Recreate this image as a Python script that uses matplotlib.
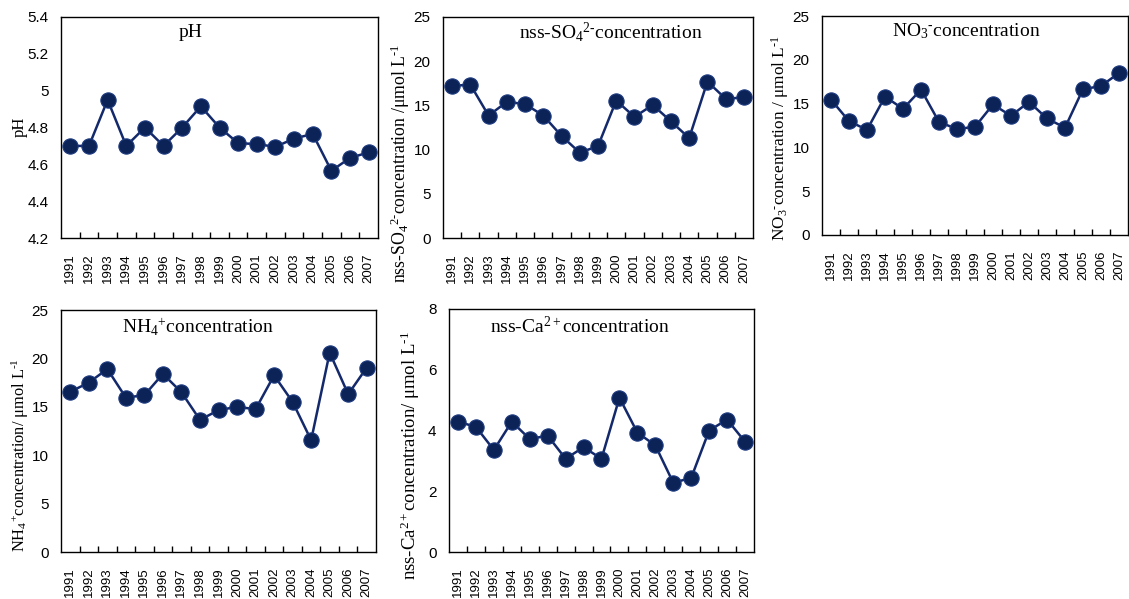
import matplotlib
matplotlib.use("Agg")
import matplotlib.pyplot as plt
from matplotlib.ticker import FixedLocator, NullFormatter

plt.rcParams["mathtext.fontset"] = "custom"
plt.rcParams["mathtext.rm"] = "Liberation Serif"
plt.rcParams["mathtext.it"] = "Liberation Serif:italic"

years = [str(y) for y in range(1991, 2008)]

ph = [4.70, 4.70, 4.95, 4.70, 4.80, 4.70, 4.80, 4.915, 4.80, 4.715,
      4.71, 4.695, 4.74, 4.765, 4.565, 4.635, 4.665]
so4 = [17.2, 17.35, 13.85, 15.4, 15.15, 13.85, 11.55, 9.65, 10.4, 15.55,
       13.7, 15.05, 13.2, 11.3, 17.7, 15.75, 15.9]
no3 = [15.45, 13.0, 12.0, 15.8, 14.4, 16.6, 12.9, 12.1, 12.35, 14.9,
       13.6, 15.2, 13.3, 12.25, 16.65, 17.0, 18.5]
nh4 = [16.55, 17.5, 18.9, 15.95, 16.2, 18.4, 16.5, 13.65, 14.65, 15.0,
       14.75, 18.25, 15.5, 11.55, 20.6, 16.3, 19.05]
ca = [4.29, 4.12, 3.36, 4.29, 3.72, 3.83, 3.07, 3.45, 3.07, 5.08,
      3.93, 3.51, 2.28, 2.44, 4.0, 4.36, 3.63]

W, H = 1129, 599
LINE = "#13296b"
MARK = "#0c2358"
HY = "\u2010"  # short hyphen instead of the mathtext minus

# (values, pixel box l, r, top, bottom, ylim, yticks, ticklabels, title,
#  title x-frac, ylabel, ylabel centre in px, ylabel size)
panels = [
    (ph, (61, 378, 17, 238), (4.2, 5.4), [4.2, 4.4, 4.6, 4.8, 5.0, 5.2, 5.4],
     ["4.2", "4.4", "4.6", "4.8", "5", "5.2", "5.4"],
     "pH", 0.41, "pH", (20, 127), 12),
    (so4, (443, 753, 17, 238), (0, 25), [0, 5, 10, 15, 20, 25], None,
     r"nss-SO$_{\mathrm{4}}$$^{\mathrm{2" + HY + "}}$concentration", 0.54,
     r"nss-SO$_{\mathrm{4}}$$^{\mathrm{2" + HY + r"}}$concentration /μmol L$^{\mathrm{" + HY + "1}}$",
     (400, 163), 12.8),
    (no3, (822, 1128, 16, 235), (0, 25), [0, 5, 10, 15, 20, 25], None,
     r"NO$_{\mathrm{3}}$$^{\mathrm{" + HY + "}}$concentration", 0.47,
     r"NO$_{\mathrm{3}}$$^{\mathrm{" + HY + r"}}$concentration / μmol L$^{\mathrm{" + HY + "1}}$",
     (780, 138), 12.4),
    (nh4, (61, 376, 310, 552), (0, 25), [0, 5, 10, 15, 20, 25], None,
     r"NH$_{\mathrm{4}}$$^{\mathrm{+}}$concentration", 0.435,
     r"NH$_{\mathrm{4}}$$^{\mathrm{+}}$concentration/ μmol L$^{\mathrm{" + HY + "1}}$",
     (20, 455), 11.8),
    (ca, (449, 754, 309, 552), (0, 8), [0, 2, 4, 6, 8], None,
     r"nss-Ca$^{\mathrm{2+}}$concentration", 0.43,
     r"nss-Ca$^{\mathrm{2+}}$concentration/ μmol L$^{\mathrm{" + HY + "1}}$",
     (410, 455), 13.5),
]

fig = plt.figure(figsize=(W / 100, H / 100), dpi=100)

for (vals, (l, r, t, b), ylim, yticks, ylabels, title, tx, ylab,
     (lx, ly), lsize) in panels:
    ax = fig.add_axes([l / W, (H - b) / H, (r - l) / W, (b - t) / H])
    x = list(range(len(years)))
    ax.plot(x, vals, color=LINE, lw=1.8, marker="o", markersize=11,
            markerfacecolor=MARK, markeredgecolor="#1d3a80", markeredgewidth=0.8,
            zorder=3)
    ax.set_xlim(-0.5, len(years) - 0.5)
    ax.set_ylim(*ylim)
    ax.set_yticks(yticks)
    if ylabels:
        ax.set_yticklabels(ylabels)

    # category labels at the centres, tick marks between categories
    ax.xaxis.set_major_locator(FixedLocator([i + 0.5 for i in range(len(years) - 1)]))
    ax.xaxis.set_major_formatter(NullFormatter())
    ax.xaxis.set_minor_locator(FixedLocator(x))
    ax.set_xticklabels(years, minor=True, rotation=90, fontsize=9.5,
                       family="Liberation Sans")
    ax.tick_params(axis="x", which="major", direction="in", length=4, width=1)
    ax.tick_params(axis="x", which="minor", length=0, pad=11)
    ax.tick_params(axis="y", length=0, pad=9, labelsize=11)
    for lab in ax.get_yticklabels():
        lab.set_family("Liberation Sans")

    for sp in ax.spines.values():
        sp.set_linewidth(1.0)
        sp.set_color("black")

    ax.text(tx, 0.93, title, transform=ax.transAxes, ha="center", va="center",
            fontsize=14, family="Liberation Serif")
    fig.text(lx / W, (H - ly) / H, ylab, rotation=90, ha="center", va="center",
             fontsize=lsize, family="Liberation Serif")

fig.savefig("out.png", dpi=100)
